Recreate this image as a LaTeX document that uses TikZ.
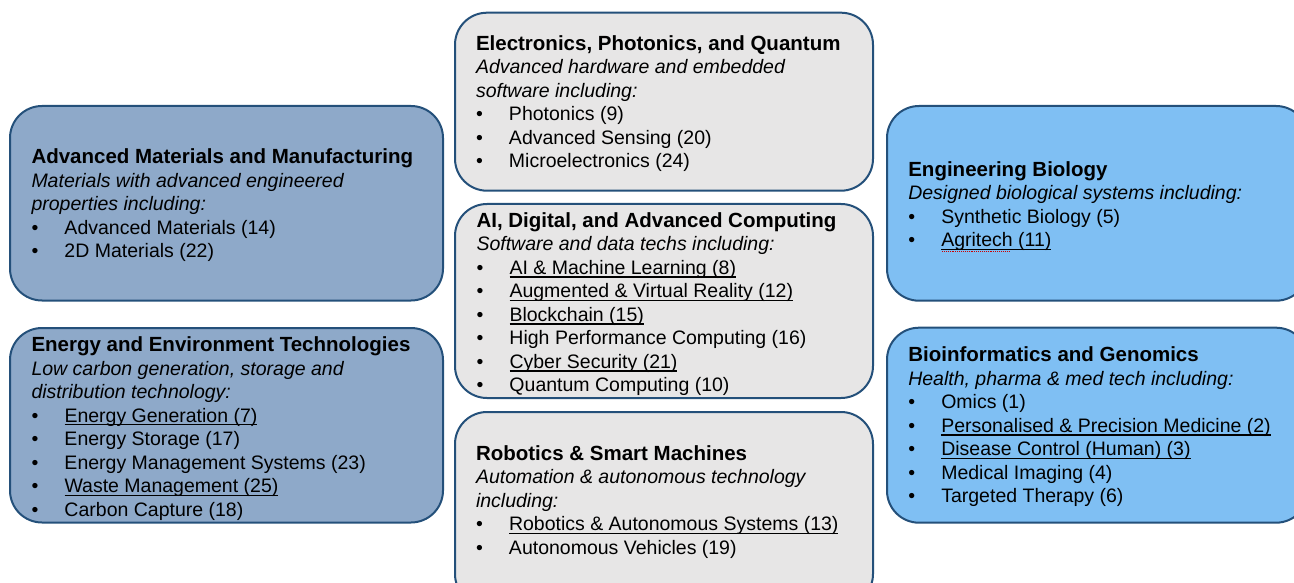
\documentclass[tikz,border=0pt]{standalone}
\usepackage{fontspec}
\setmainfont{Liberation Sans}
\definecolor{bdr}{HTML}{24507A}
\definecolor{fillL}{HTML}{8EA9C9}
\definecolor{fillC}{HTML}{E7E6E6}
\definecolor{fillR}{HTML}{7FBFF3}
\newcommand{\mytitle}[1]{\hbox{\bfseries\fontsize{20.5}{23.5}\selectfont #1}}
\newcommand{\mysubt}[1]{\hbox{\itshape #1}}
\newcommand{\myul}[1]{{\setbox0=\hbox{#1}\rlap{\rule[-3.3pt]{\wd0}{1.2pt}}\box0}}
\newcommand{\myitem}[1]{\hbox{\makebox[33pt][l]{\textbullet}#1}}
\newcommand{\myuitem}[1]{\hbox{\makebox[33pt][l]{\textbullet}\myul{#1}}}
\newcommand{\myblock}[1]{\vtop{\fontsize{19.5}{23.5}\selectfont #1}}
\begin{document}
\begin{tikzpicture}[x=1pt,y=-1pt,
  box/.style={draw=bdr, line width=2pt, rounded corners=32pt, outer sep=0pt, inner sep=0pt, anchor=north west},
  txt/.style={inner sep=0pt, outer sep=0pt, anchor=base west, text=black}]
\useasboundingbox (0,0) rectangle (1294,583);
\clip (0,0) rectangle (1294,583);
\fill[white] (0,0) rectangle (1294,583);

% boxes
\node[box, fill=fillL, minimum width=433pt, minimum height=194.5pt] (b1) at (10,106) {};
\node[box, fill=fillL, minimum width=433pt, minimum height=194.5pt] (b2) at (10,328) {};
\node[box, fill=fillC, minimum width=418pt, minimum height=178pt] (c1) at (455,12.7) {};
\node[box, fill=fillC, minimum width=418pt, minimum height=194pt] (c2) at (455,204) {};
\node[box, fill=fillC, minimum width=418pt, minimum height=194pt] (c3) at (455,412) {};
\node[box, fill=fillR, minimum width=421pt, minimum height=194.7pt] (r1) at (887,106) {};
\node[box, fill=fillR, minimum width=421pt, minimum height=195pt] (r2) at (887,327.7) {};

% texts
\node[txt] (t1) at (31.5,164) {\myblock{%
  \mytitle{Advanced Materials and Manufacturing}
  \mysubt{Materials with advanced engineered}
  \mysubt{properties including:}
  \myitem{Advanced Materials (14)}
  \myitem{2D Materials (22)}}};

\node[txt] (t2) at (31.5,351.5) {\myblock{%
  \mytitle{Energy and Environment Technologies}
  \mysubt{Low carbon generation, storage and}
  \mysubt{distribution technology:}
  \myuitem{Energy Generation (7)}
  \myitem{Energy Storage (17)}
  \myitem{Energy Management Systems (23)}
  \myuitem{Waste Management (25)}
  \myitem{Carbon Capture (18)}}};

\node[txt] (t3) at (476,50.5) {\myblock{%
  \mytitle{Electronics, Photonics, and Quantum}
  \mysubt{Advanced hardware and embedded}
  \mysubt{software including:}
  \myitem{Photonics (9)}
  \myitem{Advanced Sensing (20)}
  \myitem{Microelectronics (24)}}};

\node[txt] (t4) at (476.5,227.3) {\myblock{%
  \mytitle{AI, Digital, and Advanced Computing}
  \mysubt{Software and data techs including:}
  \myuitem{AI \& Machine Learning (8)}
  \myuitem{Augmented \& Virtual Reality (12)}
  \myuitem{Blockchain (15)}
  \myitem{High Performance Computing (16)}
  \myuitem{Cyber Security (21)}
  \myitem{Quantum Computing (10)}}};

\node[txt] (t5) at (476,460) {\myblock{%
  \mytitle{Robotics \& Smart Machines}
  \mysubt{Automation \& autonomous technology}
  \mysubt{including:}
  \myuitem{Robotics \& Autonomous Systems (13)}
  \myitem{Autonomous Vehicles (19)}}};

\node[txt] (t6) at (908.3,176.5) {\myblock{%
  \mytitle{Engineering Biology}
  \mysubt{Designed biological systems including:}
  \myitem{Synthetic Biology (5)}
  \myuitem{Agritech (11)}}};

\node[txt] (t7) at (908.3,361.7) {\myblock{%
  \mytitle{Bioinformatics and Genomics}
  \mysubt{Health, pharma \& med tech including:}
  \myitem{Omics (1)}
  \myuitem{Personalised \& Precision Medicine (2)}
  \myuitem{Disease Control (Human) (3)}
  \myitem{Medical Imaging (4)}
  \myitem{Targeted Therapy (6)}}};

% spell-check squiggle under Agritech
\draw[red!80!black, densely dotted, line width=0.9pt] (942,251.5) -- (1010,251.5);
\end{tikzpicture}
\end{document}
